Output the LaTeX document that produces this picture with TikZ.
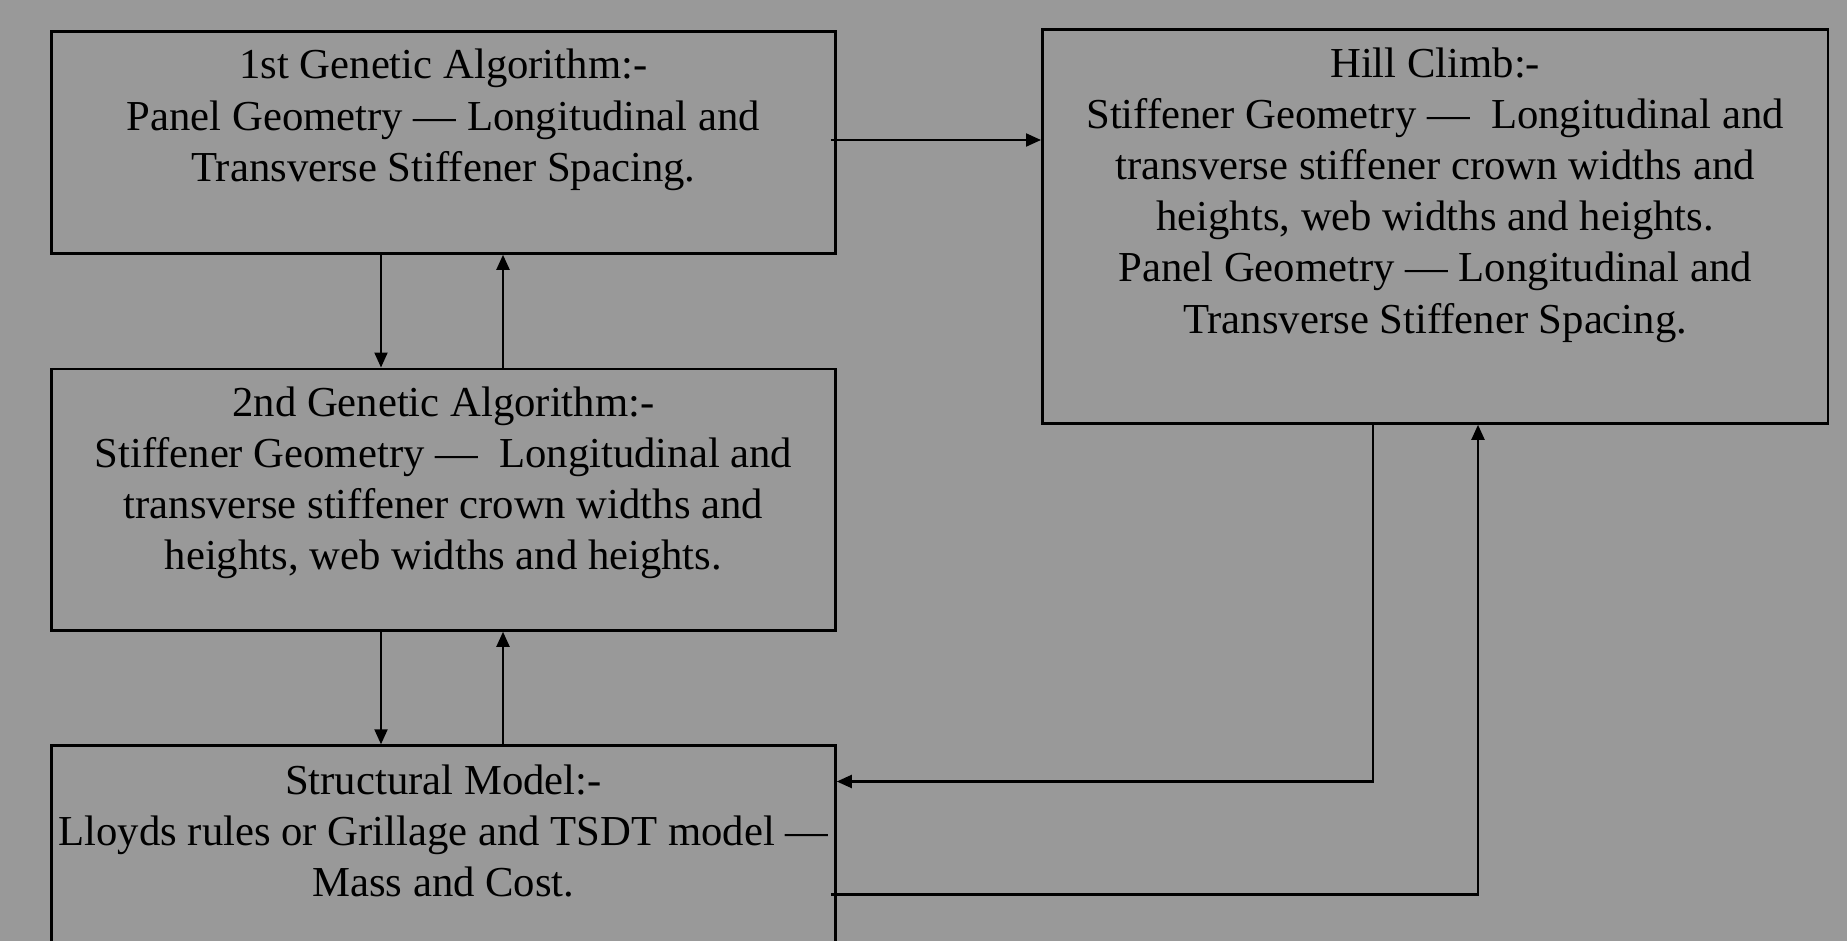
\documentclass[tikz,border=0pt]{standalone}
\usepackage{fontspec}
\setmainfont{Liberation Serif}
\usetikzlibrary{arrows.meta}
\definecolor{bgc}{gray}{0.6}
\begin{document}
\begin{tikzpicture}[x=1pt,y=-1pt,
  boxed/.style={draw=black, line width=2.8pt, rectangle, inner sep=0pt, anchor=north west},
  txt/.style={font=\fontsize{42.7}{51.2}\selectfont, align=center, inner sep=0pt, anchor=north},
  conn/.style={line width=2.1pt, -{Triangle[length=15pt,width=13pt]}}]
\useasboundingbox (0,0) rectangle (1847,941);
\fill[bgc] (0,0) rectangle (1847,941);
\clip (0,0) rectangle (1847,941);
\node[boxed, minimum width=784pt, minimum height=222pt] (b1) at (50,30) {};
\node[boxed, minimum width=784pt, minimum height=261.5pt] (b2) at (50,367.5) {};
\node[boxed, minimum width=784pt, minimum height=300pt] (b3) at (50,744.3) {};
\node[boxed, minimum width=785.5pt, minimum height=393.7pt] (b4) at (1041,28.3) {};
\node[txt] (t1) at ([yshift=-19pt]b1.north) {1st Genetic Algorithm:-\\Panel Geometry — Longitudinal and\\Transverse Stiffener Spacing.};
\node[txt] (t2) at ([yshift=-19pt]b2.north) {2nd Genetic Algorithm:-\\Stiffener Geometry —\ \ Longitudinal and\\transverse stiffener crown widths and\\heights, web widths and heights.};
\node[txt] (t3) at ([yshift=-20pt]b3.north) {Structural Model:-\\Lloyds rules or Grillage and TSDT model —\\Mass and Cost.};
\node[txt] (t4) at ([yshift=-19pt]b4.north) {Hill Climb:-\\Stiffener Geometry —\ \ Longitudinal and\\transverse stiffener crown widths and\\heights, web widths and heights.\\Panel Geometry — Longitudinal and\\Transverse Stiffener Spacing.};
\coordinate (x1) at (381,0);
\coordinate (x2) at (503,0);
\coordinate (x3) at (1373,0);
\coordinate (x4) at (1478,0);
\coordinate (ya) at (0,140);
\coordinate (yb) at (0,781.5);
\coordinate (yc) at (0,894.5);
\draw[conn] (b1.south -| x1) -- (b2.north -| x1);
\draw[conn] (b2.north -| x2) -- (b1.south -| x2);
\draw[conn] (b2.south -| x1) -- (b3.north -| x1);
\draw[conn] (b3.north -| x2) -- (b2.south -| x2);
\draw[conn] ([xshift=-6pt]b1.east |- ya) -- (b4.west |- ya);
\draw[conn] (b4.south -| x3) -- (x3 |- yb) -- (b3.east |- yb);
\draw[conn] ([xshift=-6pt]b3.east |- yc) -- (x4 |- yc) -- (b4.south -| x4);
\end{tikzpicture}
\end{document}
